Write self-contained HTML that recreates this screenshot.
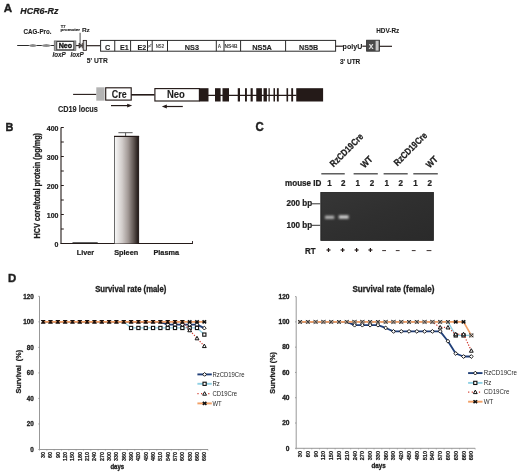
<!DOCTYPE html>
<html><head><meta charset="utf-8"><style>
html,body{margin:0;padding:0;background:#fff;}
svg{display:block;filter:blur(0.3px);}
text{font-family:"Liberation Sans",sans-serif;}
</style></head><body>
<svg width="520" height="473" viewBox="0 0 520 473">
<rect width="520" height="473" fill="#fff"/>
<text x="0" y="0" transform="translate(3.7 11.9) scale(1 1.0)" font-size="11.6" font-weight="bold" text-anchor="start" fill="#1e1e1e" stroke="#1e1e1e" stroke-width="0.4">A</text>
<text x="0" y="0" transform="translate(20.3 14.1) scale(1 1.08)" font-size="8.9" font-weight="bold" text-anchor="start" fill="#1e1e1e" font-style="italic" stroke="#1e1e1e" stroke-width="0.2">HCR6-Rz</text>
<text x="0" y="0" transform="translate(23.6 33.6) scale(1 1.08)" font-size="6.2" font-weight="bold" text-anchor="start" fill="#1e1e1e"  stroke="#1e1e1e" stroke-width="0.1">CAG-Pro.</text>
<text x="0" y="0" transform="translate(60.8 27.6) scale(1 0.95)" font-size="4.1" font-weight="bold" text-anchor="start" fill="#1e1e1e" stroke="#1e1e1e" stroke-width="0.15">T7</text>
<text x="0" y="0" transform="translate(60.5 31.2) scale(1 0.95)" font-size="4.45" font-weight="bold" text-anchor="start" fill="#1e1e1e" stroke="#1e1e1e" stroke-width="0.15">promoter</text>
<text x="0" y="0" transform="translate(81.9 32.2) scale(1 0.9)" font-size="6.5" font-weight="bold" text-anchor="start" fill="#1e1e1e"  stroke="#1e1e1e" stroke-width="0.1">Rz</text>
<line x1="17.2" y1="45.5" x2="54" y2="45.5" stroke="#2a2a2a" stroke-width="1.0" />
<path d="M28.4 45.45 Q32.9 42.4 37.4 45.45 Q32.9 48.5 28.4 45.45 Z" fill="#8c8c8c"/>
<path d="M41.0 45.45 Q46.3 42.4 51.6 45.45 Q46.3 48.5 41.0 45.45 Z" fill="#8c8c8c"/>
<rect x="54.2" y="40.9" width="21.7" height="9.6" fill="#a0a0a0" stroke="#555" stroke-width="0.6" />
<rect x="56.8" y="41.6" width="17.0" height="8.2" fill="#ffffff" stroke="#222" stroke-width="0.8" />
<text x="0" y="0" transform="translate(65.4 48.4) scale(1 1.02)" font-size="7.1" font-weight="bold" text-anchor="middle" fill="#111" stroke="#111" stroke-width="0.35">Neo</text>
<line x1="75.9" y1="45.6" x2="79" y2="45.6" stroke="#241a18" stroke-width="1.1" />
<path d="M79.0 43.0 L82.3 45.6 L79.0 48.2 Z" fill="#555" stroke="#241a18" stroke-width="0.6"/>
<line x1="82.3" y1="42.9" x2="82.3" y2="48.3" stroke="#241a18" stroke-width="0.8" />
<line x1="80.1" y1="32.8" x2="80.1" y2="43.6" stroke="#222" stroke-width="0.8" />
<rect x="83.2" y="40.4" width="3.2" height="9.9" fill="#d4d4d4" stroke="#241a18" stroke-width="0.85" />
<line x1="86.3" y1="45.7" x2="100.6" y2="45.7" stroke="#241a18" stroke-width="1.15" />
<text x="0" y="0" transform="translate(52.4 56.9) scale(1 1.08)" font-size="6.3" font-weight="bold" text-anchor="start" fill="#1e1e1e" font-style="italic"  stroke="#1e1e1e" stroke-width="0.1">loxP</text>
<text x="0" y="0" transform="translate(70.5 56.9) scale(1 1.08)" font-size="6.3" font-weight="bold" text-anchor="start" fill="#1e1e1e" font-style="italic"  stroke="#1e1e1e" stroke-width="0.1">loxP</text>
<text x="0" y="0" transform="translate(86.8 63.2) scale(1 1.08)" font-size="6.7" font-weight="bold" text-anchor="start" fill="#1e1e1e"  stroke="#1e1e1e" stroke-width="0.1">5' UTR</text>
<rect x="100.6" y="40.4" width="235.0" height="10.8" fill="#ffffff" stroke="#2a2a2a" stroke-width="1.0" />
<line x1="114.75" y1="40.4" x2="114.75" y2="51.2" stroke="#2a2a2a" stroke-width="1.0" />
<line x1="130.6" y1="40.4" x2="130.6" y2="51.2" stroke="#2a2a2a" stroke-width="1.0" />
<line x1="147.5" y1="40.4" x2="147.5" y2="51.2" stroke="#2a2a2a" stroke-width="1.0" />
<line x1="152.2" y1="40.4" x2="152.2" y2="51.2" stroke="#2a2a2a" stroke-width="1.0" />
<line x1="167.5" y1="40.4" x2="167.5" y2="51.2" stroke="#2a2a2a" stroke-width="1.0" />
<line x1="216.3" y1="40.4" x2="216.3" y2="51.2" stroke="#2a2a2a" stroke-width="1.0" />
<line x1="224.0" y1="40.4" x2="224.0" y2="51.2" stroke="#2a2a2a" stroke-width="1.0" />
<line x1="240.6" y1="40.4" x2="240.6" y2="51.2" stroke="#2a2a2a" stroke-width="1.0" />
<line x1="285.6" y1="40.4" x2="285.6" y2="51.2" stroke="#2a2a2a" stroke-width="1.0" />
<text x="0" y="0" transform="translate(107.6 49.6) scale(1 1.08)" font-size="7.2" font-weight="bold" text-anchor="middle" fill="#1e1e1e"  stroke="#1e1e1e" stroke-width="0.1">C</text>
<text x="0" y="0" transform="translate(124.3 49.6) scale(1 1.08)" font-size="7.2" font-weight="bold" text-anchor="middle" fill="#1e1e1e"  stroke="#1e1e1e" stroke-width="0.1">E1</text>
<text x="0" y="0" transform="translate(141.8 49.6) scale(1 1.08)" font-size="7.2" font-weight="bold" text-anchor="middle" fill="#1e1e1e"  stroke="#1e1e1e" stroke-width="0.1">E2</text>
<text x="0" y="0" transform="translate(149.9 47.4) scale(1 1.08)" font-size="2.6" font-weight="bold" text-anchor="middle" fill="#1e1e1e" >p7</text>
<text x="0" y="0" transform="translate(159.9 47.6) scale(1 1.08)" font-size="4.3" font-weight="bold" text-anchor="middle" fill="#444" >NS2</text>
<text x="0" y="0" transform="translate(191.9 49.6) scale(1 1.08)" font-size="7.3" font-weight="bold" text-anchor="middle" fill="#1e1e1e"  stroke="#1e1e1e" stroke-width="0.1">NS3</text>
<text x="0" y="0" transform="translate(219.4 48.0) scale(1 1.08)" font-size="4.6" font-weight="bold" text-anchor="middle" fill="#444" >A</text>
<text x="0" y="0" transform="translate(231.0 48.0) scale(1 1.08)" font-size="4.9" font-weight="bold" text-anchor="middle" fill="#333" >NS4B</text>
<text x="0" y="0" transform="translate(262.0 49.6) scale(1 1.08)" font-size="7.4" font-weight="bold" text-anchor="middle" fill="#1e1e1e"  stroke="#1e1e1e" stroke-width="0.1">NS5A</text>
<text x="0" y="0" transform="translate(308.6 49.6) scale(1 1.08)" font-size="7.2" font-weight="bold" text-anchor="middle" fill="#1e1e1e"  stroke="#1e1e1e" stroke-width="0.1">NS5B</text>
<line x1="335.6" y1="46.2" x2="342.9" y2="46.2" stroke="#241a18" stroke-width="1.15" />
<text x="0" y="0" transform="translate(342.6 48.6) scale(1 1.08)" font-size="7.1" font-weight="bold" text-anchor="start" fill="#1e1e1e"  stroke="#1e1e1e" stroke-width="0.1">polyU</text>
<line x1="362.3" y1="46.2" x2="366.4" y2="46.2" stroke="#241a18" stroke-width="1.15" />
<rect x="366.6" y="40.2" width="12.9" height="11.0" fill="#4a4a4a" stroke="#2a2a2a" stroke-width="0.8" />
<rect x="375.6" y="40.8" width="3.0" height="9.8" fill="#c8c8c8" stroke="none" stroke-width="1" />
<text x="0" y="0" transform="translate(371.2 49.0) scale(1 1.08)" font-size="7.0" font-weight="bold" text-anchor="middle" fill="#e8e8e8"  stroke="#e8e8e8" stroke-width="0.1">X</text>
<line x1="379.6" y1="46.3" x2="392.0" y2="46.3" stroke="#241a18" stroke-width="1.15" />
<text x="0" y="0" transform="translate(376.2 33.2) scale(1 1.08)" font-size="6.4" font-weight="bold" text-anchor="start" fill="#1e1e1e"  stroke="#1e1e1e" stroke-width="0.1">HDV-Rz</text>
<text x="0" y="0" transform="translate(340.0 63.8) scale(1 1.08)" font-size="6.5" font-weight="bold" text-anchor="start" fill="#1e1e1e"  stroke="#1e1e1e" stroke-width="0.1">3' UTR</text>
<line x1="73.1" y1="94.4" x2="96.4" y2="94.4" stroke="#241a18" stroke-width="1.1" />
<rect x="96.3" y="87.3" width="8.3" height="13.4" fill="#b4b4b4" stroke="none" stroke-width="1" />
<rect x="105.7" y="87.8" width="25.5" height="12.3" fill="#ffffff" stroke="#241a18" stroke-width="1.15" />
<text x="0" y="0" transform="translate(119.2 97.6) scale(1 1.16)" font-size="8.9" font-weight="bold" text-anchor="middle" fill="#1e1e1e"  stroke="#1e1e1e" stroke-width="0.1">Cre</text>
<line x1="131.2" y1="94.8" x2="154.6" y2="94.8" stroke="#241a18" stroke-width="1.6" />
<rect x="154.9" y="88.6" width="44.5" height="12.4" fill="#ffffff" stroke="#241a18" stroke-width="1.15" />
<text x="0" y="0" transform="translate(175.9 97.7) scale(1 1.12)" font-size="9.5" font-weight="bold" text-anchor="middle" fill="#1e1e1e"  stroke="#1e1e1e" stroke-width="0.1">Neo</text>
<line x1="199.4" y1="95.3" x2="296.5" y2="95.3" stroke="#241a18" stroke-width="1.15" />
<rect x="199.4" y="88.2" width="9.099999999999994" height="13.3" fill="#241a18" stroke="none" stroke-width="1" />
<rect x="215" y="88.2" width="5.599999999999994" height="13.3" fill="#241a18" stroke="none" stroke-width="1" />
<rect x="222.5" y="88.2" width="6.5" height="13.3" fill="#241a18" stroke="none" stroke-width="1" />
<rect x="237.75" y="88.2" width="2.25" height="13.3" fill="#241a18" stroke="none" stroke-width="1" />
<rect x="245" y="88.2" width="1.9000000000000057" height="13.3" fill="#241a18" stroke="none" stroke-width="1" />
<rect x="250.6" y="88.2" width="2.1500000000000057" height="13.3" fill="#241a18" stroke="none" stroke-width="1" />
<rect x="256.25" y="88.2" width="5.649999999999977" height="13.3" fill="#241a18" stroke="none" stroke-width="1" />
<rect x="263.5" y="88.2" width="3.3999999999999773" height="13.3" fill="#241a18" stroke="none" stroke-width="1" />
<rect x="268.5" y="88.2" width="1.25" height="13.3" fill="#241a18" stroke="none" stroke-width="1" />
<rect x="273.5" y="88.2" width="1.5" height="13.3" fill="#241a18" stroke="none" stroke-width="1" />
<rect x="276.9" y="88.2" width="1.8500000000000227" height="13.3" fill="#241a18" stroke="none" stroke-width="1" />
<rect x="286.5" y="88.2" width="1.6000000000000227" height="13.3" fill="#241a18" stroke="none" stroke-width="1" />
<rect x="291.25" y="88.2" width="1.8500000000000227" height="13.3" fill="#241a18" stroke="none" stroke-width="1" />
<rect x="296.25" y="88.2" width="26.850000000000023" height="13.3" fill="#241a18" stroke="none" stroke-width="1" />
<text x="0" y="0" transform="translate(57.9 111.9) scale(1 1.14)" font-size="7.35" font-weight="bold" text-anchor="start" fill="#1e1e1e"  stroke="#1e1e1e" stroke-width="0.1">CD19 locus</text>
<line x1="111.0" y1="105.6" x2="128.0" y2="105.6" stroke="#241a18" stroke-width="1.2" />
<path d="M127.2 103.7 L132.2 105.6 L127.2 107.5 Z" fill="#241a18"/>
<line x1="166.0" y1="106.5" x2="182.8" y2="106.5" stroke="#241a18" stroke-width="1.2" />
<path d="M166.8 104.6 L161.8 106.5 L166.8 108.4 Z" fill="#241a18"/>
<text x="0" y="0" transform="translate(5.5 130.8) scale(1 1.0)" font-size="10.9" font-weight="bold" text-anchor="start" fill="#1e1e1e" stroke="#1e1e1e" stroke-width="0.4">B</text>
<line x1="61.0" y1="127.5" x2="61.0" y2="243.5" stroke="#241a18" stroke-width="1.1" />
<line x1="61.0" y1="243.5" x2="63.8" y2="243.5" stroke="#241a18" stroke-width="1.0" />
<line x1="61.0" y1="229.0" x2="63.8" y2="229.0" stroke="#241a18" stroke-width="1.0" />
<line x1="61.0" y1="214.5" x2="63.8" y2="214.5" stroke="#241a18" stroke-width="1.0" />
<line x1="61.0" y1="200.0" x2="63.8" y2="200.0" stroke="#241a18" stroke-width="1.0" />
<line x1="61.0" y1="185.5" x2="63.8" y2="185.5" stroke="#241a18" stroke-width="1.0" />
<line x1="61.0" y1="171.0" x2="63.8" y2="171.0" stroke="#241a18" stroke-width="1.0" />
<line x1="61.0" y1="156.5" x2="63.8" y2="156.5" stroke="#241a18" stroke-width="1.0" />
<line x1="61.0" y1="142.0" x2="63.8" y2="142.0" stroke="#241a18" stroke-width="1.0" />
<line x1="61.0" y1="127.5" x2="63.8" y2="127.5" stroke="#241a18" stroke-width="1.0" />
<text x="0" y="0" transform="translate(58.4 246.5) scale(1 1.08)" font-size="7.0" font-weight="bold" text-anchor="end" fill="#1e1e1e"  stroke="#1e1e1e" stroke-width="0.22">0</text>
<text x="0" y="0" transform="translate(58.4 217.5) scale(1 1.08)" font-size="7.0" font-weight="bold" text-anchor="end" fill="#1e1e1e"  stroke="#1e1e1e" stroke-width="0.22">100</text>
<text x="0" y="0" transform="translate(58.4 188.5) scale(1 1.08)" font-size="7.0" font-weight="bold" text-anchor="end" fill="#1e1e1e"  stroke="#1e1e1e" stroke-width="0.22">200</text>
<text x="0" y="0" transform="translate(58.4 159.5) scale(1 1.08)" font-size="7.0" font-weight="bold" text-anchor="end" fill="#1e1e1e"  stroke="#1e1e1e" stroke-width="0.22">300</text>
<text x="0" y="0" transform="translate(58.4 130.5) scale(1 1.08)" font-size="7.0" font-weight="bold" text-anchor="end" fill="#1e1e1e"  stroke="#1e1e1e" stroke-width="0.22">400</text>
<line x1="60.45" y1="243.5" x2="192.9" y2="243.5" stroke="#241a18" stroke-width="1.1" />
<line x1="192.5" y1="243.5" x2="192.5" y2="241.0" stroke="#241a18" stroke-width="0.9" />
<text x="0" y="0" font-size="7.3" font-weight="bold" text-anchor="middle" fill="#1e1e1e" stroke="#1e1e1e" stroke-width="0.25" transform="translate(40.4 185.8) rotate(-90) scale(1 1.16)">HCV core/total protein (pg/mg)</text>
<line x1="72.5" y1="242.8" x2="97.7" y2="242.8" stroke="#222" stroke-width="1.0" />
<defs><linearGradient id="bg" x1="0" x2="1" y1="0" y2="0"><stop offset="0" stop-color="#f6f6f6"/><stop offset="0.3" stop-color="#d2cdcb"/><stop offset="0.55" stop-color="#a39a97"/><stop offset="0.8" stop-color="#5e5450"/><stop offset="1" stop-color="#1e1614"/></linearGradient></defs>
<rect x="115.0" y="136.4" width="23.6" height="107.1" fill="url(#bg)" stroke="none" stroke-width="1" />
<line x1="114.5" y1="136.0" x2="114.5" y2="243.5" stroke="#6a6a6a" stroke-width="1.0" />
<line x1="138.6" y1="136.0" x2="138.6" y2="243.5" stroke="#241a18" stroke-width="1.0" />
<line x1="114.0" y1="136.4" x2="139.1" y2="136.4" stroke="#241a18" stroke-width="1.2" />
<line x1="125.6" y1="132.7" x2="125.6" y2="136.0" stroke="#444" stroke-width="0.9" />
<line x1="118.4" y1="132.7" x2="132.6" y2="132.7" stroke="#555" stroke-width="1.0" />
<text x="0" y="0" transform="translate(85.5 254.5) scale(1 1.08)" font-size="7.25" font-weight="bold" text-anchor="middle" fill="#1e1e1e"  stroke="#1e1e1e" stroke-width="0.22">Liver</text>
<text x="0" y="0" transform="translate(126.2 254.5) scale(1 1.08)" font-size="7.35" font-weight="bold" text-anchor="middle" fill="#1e1e1e"  stroke="#1e1e1e" stroke-width="0.22">Spleen</text>
<text x="0" y="0" transform="translate(166.2 254.5) scale(1 1.08)" font-size="7.3" font-weight="bold" text-anchor="middle" fill="#1e1e1e"  stroke="#1e1e1e" stroke-width="0.22">Plasma</text>
<text x="0" y="0" transform="translate(255.5 130.6) scale(1 1.04)" font-size="11.4" font-weight="bold" text-anchor="start" fill="#1e1e1e" stroke="#1e1e1e" stroke-width="0.4">C</text>
<text x="0" y="0" font-size="7.9" font-weight="bold" fill="#1e1e1e" stroke="#1e1e1e" stroke-width="0.25" transform="translate(333.6 167.6) rotate(-45) scale(1 1.18)">RzCD19Cre</text>
<text x="0" y="0" font-size="7.9" font-weight="bold" fill="#1e1e1e" stroke="#1e1e1e" stroke-width="0.25" transform="translate(364.6 168.6) rotate(-45) scale(1 1.18)">WT</text>
<text x="0" y="0" font-size="7.9" font-weight="bold" fill="#1e1e1e" stroke="#1e1e1e" stroke-width="0.25" transform="translate(397.4 166.4) rotate(-45) scale(1 1.18)">RzCD19Cre</text>
<text x="0" y="0" font-size="7.9" font-weight="bold" fill="#1e1e1e" stroke="#1e1e1e" stroke-width="0.25" transform="translate(429.8 168.6) rotate(-45) scale(1 1.18)">WT</text>
<line x1="321.3" y1="173.8" x2="344.75" y2="173.8" stroke="#444" stroke-width="1.3" />
<line x1="353.6" y1="173.8" x2="377.8" y2="173.8" stroke="#444" stroke-width="1.3" />
<line x1="383.6" y1="173.8" x2="407.7" y2="173.8" stroke="#444" stroke-width="1.3" />
<line x1="413.3" y1="173.8" x2="437.8" y2="173.8" stroke="#444" stroke-width="1.3" />
<text x="0" y="0" transform="translate(285.0 185.9) scale(1 1.08)" font-size="8.1" font-weight="bold" text-anchor="start" fill="#1e1e1e"  stroke="#1e1e1e" stroke-width="0.22">mouse ID</text>
<text x="0" y="0" transform="translate(329.5 185.9) scale(1 1.08)" font-size="8.0" font-weight="bold" text-anchor="middle" fill="#1e1e1e"  stroke="#1e1e1e" stroke-width="0.22">1</text>
<text x="0" y="0" transform="translate(343.2 185.9) scale(1 1.08)" font-size="8.0" font-weight="bold" text-anchor="middle" fill="#1e1e1e"  stroke="#1e1e1e" stroke-width="0.22">2</text>
<text x="0" y="0" transform="translate(357.8 185.9) scale(1 1.08)" font-size="8.0" font-weight="bold" text-anchor="middle" fill="#1e1e1e"  stroke="#1e1e1e" stroke-width="0.22">1</text>
<text x="0" y="0" transform="translate(371.9 185.9) scale(1 1.08)" font-size="8.0" font-weight="bold" text-anchor="middle" fill="#1e1e1e"  stroke="#1e1e1e" stroke-width="0.22">2</text>
<text x="0" y="0" transform="translate(386.6 185.9) scale(1 1.08)" font-size="8.0" font-weight="bold" text-anchor="middle" fill="#1e1e1e"  stroke="#1e1e1e" stroke-width="0.22">1</text>
<text x="0" y="0" transform="translate(400.6 185.9) scale(1 1.08)" font-size="8.0" font-weight="bold" text-anchor="middle" fill="#1e1e1e"  stroke="#1e1e1e" stroke-width="0.22">2</text>
<text x="0" y="0" transform="translate(415.5 185.9) scale(1 1.08)" font-size="8.0" font-weight="bold" text-anchor="middle" fill="#1e1e1e"  stroke="#1e1e1e" stroke-width="0.22">1</text>
<text x="0" y="0" transform="translate(429.6 185.9) scale(1 1.08)" font-size="8.0" font-weight="bold" text-anchor="middle" fill="#1e1e1e"  stroke="#1e1e1e" stroke-width="0.22">2</text>
<defs><linearGradient id="gel" x1="0" y1="0" x2="1" y2="1"><stop offset="0" stop-color="#363636"/><stop offset="0.5" stop-color="#2f2f2f"/><stop offset="1" stop-color="#2a2a2a"/></linearGradient></defs>
<rect x="320.8" y="192.4" width="112.6" height="48.0" fill="url(#gel)" stroke="#1c1c1c" stroke-width="0.8" />
<defs><filter id="blur" x="-50%" y="-100%" width="200%" height="300%"><feGaussianBlur stdDeviation="0.8"/></filter></defs>
<rect x="325.0" y="215.7" width="9.2" height="3.2" fill="#b4b4b4" stroke="none" stroke-width="1" filter="url(#blur)"/>
<rect x="338.8" y="215.3" width="9.8" height="3.4" fill="#d0d0d0" stroke="none" stroke-width="1" filter="url(#blur)"/>
<text x="0" y="0" transform="translate(286.6 205.9) scale(1 1.08)" font-size="8.1" font-weight="bold" text-anchor="start" fill="#1e1e1e"  stroke="#1e1e1e" stroke-width="0.22">200 bp</text>
<line x1="311.2" y1="203.8" x2="320.3" y2="203.8" stroke="#333" stroke-width="1.0" />
<text x="0" y="0" transform="translate(286.6 228.1) scale(1 1.08)" font-size="8.1" font-weight="bold" text-anchor="start" fill="#1e1e1e"  stroke="#1e1e1e" stroke-width="0.22">100 bp</text>
<line x1="311.2" y1="225.3" x2="320.3" y2="225.3" stroke="#333" stroke-width="1.0" />
<text x="0" y="0" transform="translate(305.0 254.4) scale(1 1.08)" font-size="7.95" font-weight="bold" text-anchor="start" fill="#1e1e1e"  stroke="#1e1e1e" stroke-width="0.22">RT</text>
<line x1="326.5" y1="250.0" x2="330.5" y2="250.0" stroke="#241a18" stroke-width="1.2" />
<line x1="328.5" y1="248.0" x2="328.5" y2="252.0" stroke="#241a18" stroke-width="1.2" />
<line x1="340.6" y1="250.0" x2="344.6" y2="250.0" stroke="#241a18" stroke-width="1.2" />
<line x1="342.6" y1="248.0" x2="342.6" y2="252.0" stroke="#241a18" stroke-width="1.2" />
<line x1="354.6" y1="250.0" x2="358.6" y2="250.0" stroke="#241a18" stroke-width="1.2" />
<line x1="356.6" y1="248.0" x2="356.6" y2="252.0" stroke="#241a18" stroke-width="1.2" />
<line x1="368.4" y1="250.0" x2="372.4" y2="250.0" stroke="#241a18" stroke-width="1.2" />
<line x1="370.4" y1="248.0" x2="370.4" y2="252.0" stroke="#241a18" stroke-width="1.2" />
<line x1="382.2" y1="250.6" x2="386.0" y2="250.6" stroke="#241a18" stroke-width="0.9" />
<line x1="395.8" y1="250.6" x2="399.6" y2="250.6" stroke="#241a18" stroke-width="0.9" />
<line x1="411.8" y1="250.6" x2="415.6" y2="250.6" stroke="#241a18" stroke-width="0.9" />
<line x1="426.6" y1="250.6" x2="431.4" y2="250.6" stroke="#241a18" stroke-width="0.9" />
<text x="0" y="0" transform="translate(8.0 282.3) scale(1 1.0)" font-size="11.4" font-weight="bold" text-anchor="start" fill="#1e1e1e" stroke="#1e1e1e" stroke-width="0.4">D</text>
<text x="0" y="0" transform="translate(130.75 291.6) scale(1 1.08)" font-size="7.72" font-weight="bold" text-anchor="middle" fill="#1e1e1e"  stroke="#1e1e1e" stroke-width="0.3">Survival rate (male)</text>
<line x1="39.5" y1="296.3" x2="39.5" y2="449.5" stroke="#8c8c8c" stroke-width="0.9" />
<line x1="39.5" y1="449.5" x2="208.0" y2="449.5" stroke="#8c8c8c" stroke-width="0.9" />
<line x1="38.3" y1="449.5" x2="39.5" y2="449.5" stroke="#8c8c8c" stroke-width="0.8" />
<text x="0" y="0" transform="translate(33.8 451.8) scale(1 1.08)" font-size="6.35" font-weight="bold" text-anchor="end" fill="#222"  stroke="#222" stroke-width="0.3">0</text>
<line x1="38.3" y1="423.9666666666667" x2="39.5" y2="423.9666666666667" stroke="#8c8c8c" stroke-width="0.8" />
<text x="0" y="0" transform="translate(33.8 426.2666666666667) scale(1 1.08)" font-size="6.35" font-weight="bold" text-anchor="end" fill="#222"  stroke="#222" stroke-width="0.3">20</text>
<line x1="38.3" y1="398.43333333333334" x2="39.5" y2="398.43333333333334" stroke="#8c8c8c" stroke-width="0.8" />
<text x="0" y="0" transform="translate(33.8 400.73333333333335) scale(1 1.08)" font-size="6.35" font-weight="bold" text-anchor="end" fill="#222"  stroke="#222" stroke-width="0.3">40</text>
<line x1="38.3" y1="372.9" x2="39.5" y2="372.9" stroke="#8c8c8c" stroke-width="0.8" />
<text x="0" y="0" transform="translate(33.8 375.2) scale(1 1.08)" font-size="6.35" font-weight="bold" text-anchor="end" fill="#222"  stroke="#222" stroke-width="0.3">60</text>
<line x1="38.3" y1="347.3666666666667" x2="39.5" y2="347.3666666666667" stroke="#8c8c8c" stroke-width="0.8" />
<text x="0" y="0" transform="translate(33.8 349.6666666666667) scale(1 1.08)" font-size="6.35" font-weight="bold" text-anchor="end" fill="#222"  stroke="#222" stroke-width="0.3">80</text>
<line x1="38.3" y1="321.83333333333337" x2="39.5" y2="321.83333333333337" stroke="#8c8c8c" stroke-width="0.8" />
<text x="0" y="0" transform="translate(33.8 324.1333333333334) scale(1 1.08)" font-size="6.35" font-weight="bold" text-anchor="end" fill="#222"  stroke="#222" stroke-width="0.3">100</text>
<line x1="38.3" y1="296.3" x2="39.5" y2="296.3" stroke="#8c8c8c" stroke-width="0.8" />
<text x="0" y="0" transform="translate(33.8 298.6) scale(1 1.08)" font-size="6.35" font-weight="bold" text-anchor="end" fill="#222"  stroke="#222" stroke-width="0.3">120</text>
<line x1="39.5" y1="449.5" x2="39.5" y2="450.7" stroke="#8c8c8c" stroke-width="0.6" />
<line x1="46.82608695652174" y1="449.5" x2="46.82608695652174" y2="450.7" stroke="#8c8c8c" stroke-width="0.6" />
<line x1="54.15217391304348" y1="449.5" x2="54.15217391304348" y2="450.7" stroke="#8c8c8c" stroke-width="0.6" />
<line x1="61.47826086956522" y1="449.5" x2="61.47826086956522" y2="450.7" stroke="#8c8c8c" stroke-width="0.6" />
<line x1="68.80434782608695" y1="449.5" x2="68.80434782608695" y2="450.7" stroke="#8c8c8c" stroke-width="0.6" />
<line x1="76.13043478260869" y1="449.5" x2="76.13043478260869" y2="450.7" stroke="#8c8c8c" stroke-width="0.6" />
<line x1="83.45652173913044" y1="449.5" x2="83.45652173913044" y2="450.7" stroke="#8c8c8c" stroke-width="0.6" />
<line x1="90.78260869565217" y1="449.5" x2="90.78260869565217" y2="450.7" stroke="#8c8c8c" stroke-width="0.6" />
<line x1="98.1086956521739" y1="449.5" x2="98.1086956521739" y2="450.7" stroke="#8c8c8c" stroke-width="0.6" />
<line x1="105.43478260869566" y1="449.5" x2="105.43478260869566" y2="450.7" stroke="#8c8c8c" stroke-width="0.6" />
<line x1="112.76086956521739" y1="449.5" x2="112.76086956521739" y2="450.7" stroke="#8c8c8c" stroke-width="0.6" />
<line x1="120.08695652173913" y1="449.5" x2="120.08695652173913" y2="450.7" stroke="#8c8c8c" stroke-width="0.6" />
<line x1="127.41304347826087" y1="449.5" x2="127.41304347826087" y2="450.7" stroke="#8c8c8c" stroke-width="0.6" />
<line x1="134.73913043478262" y1="449.5" x2="134.73913043478262" y2="450.7" stroke="#8c8c8c" stroke-width="0.6" />
<line x1="142.06521739130434" y1="449.5" x2="142.06521739130434" y2="450.7" stroke="#8c8c8c" stroke-width="0.6" />
<line x1="149.3913043478261" y1="449.5" x2="149.3913043478261" y2="450.7" stroke="#8c8c8c" stroke-width="0.6" />
<line x1="156.7173913043478" y1="449.5" x2="156.7173913043478" y2="450.7" stroke="#8c8c8c" stroke-width="0.6" />
<line x1="164.04347826086956" y1="449.5" x2="164.04347826086956" y2="450.7" stroke="#8c8c8c" stroke-width="0.6" />
<line x1="171.3695652173913" y1="449.5" x2="171.3695652173913" y2="450.7" stroke="#8c8c8c" stroke-width="0.6" />
<line x1="178.69565217391303" y1="449.5" x2="178.69565217391303" y2="450.7" stroke="#8c8c8c" stroke-width="0.6" />
<line x1="186.02173913043478" y1="449.5" x2="186.02173913043478" y2="450.7" stroke="#8c8c8c" stroke-width="0.6" />
<line x1="193.34782608695653" y1="449.5" x2="193.34782608695653" y2="450.7" stroke="#8c8c8c" stroke-width="0.6" />
<line x1="200.67391304347825" y1="449.5" x2="200.67391304347825" y2="450.7" stroke="#8c8c8c" stroke-width="0.6" />
<line x1="208.0" y1="449.5" x2="208.0" y2="450.7" stroke="#8c8c8c" stroke-width="0.6" />
<text x="0" y="0" font-size="5.40" font-weight="bold" text-anchor="end" fill="#222" stroke="#222" stroke-width="0.2" transform="translate(45.16 452.1) rotate(-90) scale(1 1.1)">30</text>
<text x="0" y="0" font-size="5.40" font-weight="bold" text-anchor="end" fill="#222" stroke="#222" stroke-width="0.2" transform="translate(52.49 452.1) rotate(-90) scale(1 1.1)">60</text>
<text x="0" y="0" font-size="5.40" font-weight="bold" text-anchor="end" fill="#222" stroke="#222" stroke-width="0.2" transform="translate(59.82 452.1) rotate(-90) scale(1 1.1)">90</text>
<text x="0" y="0" font-size="5.40" font-weight="bold" text-anchor="end" fill="#222" stroke="#222" stroke-width="0.2" transform="translate(67.14 452.1) rotate(-90) scale(1 1.1)">120</text>
<text x="0" y="0" font-size="5.40" font-weight="bold" text-anchor="end" fill="#222" stroke="#222" stroke-width="0.2" transform="translate(74.47 452.1) rotate(-90) scale(1 1.1)">150</text>
<text x="0" y="0" font-size="5.40" font-weight="bold" text-anchor="end" fill="#222" stroke="#222" stroke-width="0.2" transform="translate(81.79 452.1) rotate(-90) scale(1 1.1)">180</text>
<text x="0" y="0" font-size="5.40" font-weight="bold" text-anchor="end" fill="#222" stroke="#222" stroke-width="0.2" transform="translate(89.12 452.1) rotate(-90) scale(1 1.1)">210</text>
<text x="0" y="0" font-size="5.40" font-weight="bold" text-anchor="end" fill="#222" stroke="#222" stroke-width="0.2" transform="translate(96.45 452.1) rotate(-90) scale(1 1.1)">240</text>
<text x="0" y="0" font-size="5.40" font-weight="bold" text-anchor="end" fill="#222" stroke="#222" stroke-width="0.2" transform="translate(103.77 452.1) rotate(-90) scale(1 1.1)">270</text>
<text x="0" y="0" font-size="5.40" font-weight="bold" text-anchor="end" fill="#222" stroke="#222" stroke-width="0.2" transform="translate(111.10 452.1) rotate(-90) scale(1 1.1)">300</text>
<text x="0" y="0" font-size="5.40" font-weight="bold" text-anchor="end" fill="#222" stroke="#222" stroke-width="0.2" transform="translate(118.42 452.1) rotate(-90) scale(1 1.1)">330</text>
<text x="0" y="0" font-size="5.40" font-weight="bold" text-anchor="end" fill="#222" stroke="#222" stroke-width="0.2" transform="translate(125.75 452.1) rotate(-90) scale(1 1.1)">360</text>
<text x="0" y="0" font-size="5.40" font-weight="bold" text-anchor="end" fill="#222" stroke="#222" stroke-width="0.2" transform="translate(133.08 452.1) rotate(-90) scale(1 1.1)">390</text>
<text x="0" y="0" font-size="5.40" font-weight="bold" text-anchor="end" fill="#222" stroke="#222" stroke-width="0.2" transform="translate(140.40 452.1) rotate(-90) scale(1 1.1)">420</text>
<text x="0" y="0" font-size="5.40" font-weight="bold" text-anchor="end" fill="#222" stroke="#222" stroke-width="0.2" transform="translate(147.73 452.1) rotate(-90) scale(1 1.1)">450</text>
<text x="0" y="0" font-size="5.40" font-weight="bold" text-anchor="end" fill="#222" stroke="#222" stroke-width="0.2" transform="translate(155.05 452.1) rotate(-90) scale(1 1.1)">480</text>
<text x="0" y="0" font-size="5.40" font-weight="bold" text-anchor="end" fill="#222" stroke="#222" stroke-width="0.2" transform="translate(162.38 452.1) rotate(-90) scale(1 1.1)">510</text>
<text x="0" y="0" font-size="5.40" font-weight="bold" text-anchor="end" fill="#222" stroke="#222" stroke-width="0.2" transform="translate(169.71 452.1) rotate(-90) scale(1 1.1)">540</text>
<text x="0" y="0" font-size="5.40" font-weight="bold" text-anchor="end" fill="#222" stroke="#222" stroke-width="0.2" transform="translate(177.03 452.1) rotate(-90) scale(1 1.1)">570</text>
<text x="0" y="0" font-size="5.40" font-weight="bold" text-anchor="end" fill="#222" stroke="#222" stroke-width="0.2" transform="translate(184.36 452.1) rotate(-90) scale(1 1.1)">600</text>
<text x="0" y="0" font-size="5.40" font-weight="bold" text-anchor="end" fill="#222" stroke="#222" stroke-width="0.2" transform="translate(191.68 452.1) rotate(-90) scale(1 1.1)">630</text>
<text x="0" y="0" font-size="5.40" font-weight="bold" text-anchor="end" fill="#222" stroke="#222" stroke-width="0.2" transform="translate(199.01 452.1) rotate(-90) scale(1 1.1)">660</text>
<text x="0" y="0" font-size="5.40" font-weight="bold" text-anchor="end" fill="#222" stroke="#222" stroke-width="0.2" transform="translate(206.34 452.1) rotate(-90) scale(1 1.1)">690</text>
<text x="0" y="0" transform="translate(110.4 469.1) scale(1 1.08)" font-size="6.0" font-weight="bold" text-anchor="start" fill="#222"  stroke="#222" stroke-width="0.3">days</text>
<text x="0" y="0" font-size="7.3" font-weight="bold" text-anchor="middle" fill="#222" stroke="#222" stroke-width="0.25" transform="translate(21.0 371.7) rotate(-90) scale(1 1.08)" xml:space="preserve">Survival  (%)</text>
<polyline points="43.16,321.83 50.49,321.83 57.82,321.83 65.14,321.83 72.47,321.83 79.79,321.83 87.12,321.83 94.45,321.83 101.77,321.83 109.10,321.83 116.42,321.83 123.75,321.83 131.08,321.83 138.40,321.83 145.73,321.83 153.05,321.83 160.38,321.83 167.71,324.64 175.03,324.64 182.36,324.64 189.68,324.64 197.01,324.64 204.34,328.09" fill="none" stroke="#203f78" stroke-width="1.8" stroke-linejoin="round"/>
<path d="M167.71 322.74 L169.61 324.64 L167.71 326.54 L165.81 324.64 Z" fill="#fff" stroke="#111" stroke-width="0.95"/>
<path d="M175.03 322.74 L176.93 324.64 L175.03 326.54 L173.13 324.64 Z" fill="#fff" stroke="#111" stroke-width="0.95"/>
<path d="M182.36 322.74 L184.26 324.64 L182.36 326.54 L180.46 324.64 Z" fill="#fff" stroke="#111" stroke-width="0.95"/>
<path d="M189.68 322.74 L191.58 324.64 L189.68 326.54 L187.78 324.64 Z" fill="#fff" stroke="#111" stroke-width="0.95"/>
<path d="M197.01 322.74 L198.91 324.64 L197.01 326.54 L195.11 324.64 Z" fill="#fff" stroke="#111" stroke-width="0.95"/>
<path d="M204.34 326.19 L206.24 328.09 L204.34 329.99 L202.44 328.09 Z" fill="#fff" stroke="#111" stroke-width="0.95"/>
<polyline points="43.16,321.83 50.49,321.83 57.82,321.83 65.14,321.83 72.47,321.83 79.79,321.83 87.12,321.83 94.45,321.83 101.77,321.83 109.10,321.83 116.42,321.83 123.75,321.83 131.08,327.96 138.40,327.96 145.73,327.96 153.05,327.96 160.38,327.96 167.71,327.96 175.03,327.96 182.36,327.96 189.68,327.96 197.01,327.96 204.34,334.60" fill="none" stroke="#8fd0e4" stroke-width="1.3"/>
<rect x="129.48" y="326.36" width="3.2" height="3.2" fill="#fff" stroke="#111" stroke-width="1.1"/>
<rect x="136.80" y="326.36" width="3.2" height="3.2" fill="#fff" stroke="#111" stroke-width="1.1"/>
<rect x="144.13" y="326.36" width="3.2" height="3.2" fill="#fff" stroke="#111" stroke-width="1.1"/>
<rect x="151.45" y="326.36" width="3.2" height="3.2" fill="#fff" stroke="#111" stroke-width="1.1"/>
<rect x="158.78" y="326.36" width="3.2" height="3.2" fill="#fff" stroke="#111" stroke-width="1.1"/>
<rect x="166.11" y="326.36" width="3.2" height="3.2" fill="#fff" stroke="#111" stroke-width="1.1"/>
<rect x="173.43" y="326.36" width="3.2" height="3.2" fill="#fff" stroke="#111" stroke-width="1.1"/>
<rect x="180.76" y="326.36" width="3.2" height="3.2" fill="#fff" stroke="#111" stroke-width="1.1"/>
<rect x="188.08" y="326.36" width="3.2" height="3.2" fill="#fff" stroke="#111" stroke-width="1.1"/>
<rect x="195.41" y="326.36" width="3.2" height="3.2" fill="#fff" stroke="#111" stroke-width="1.1"/>
<rect x="202.74" y="333.00" width="3.2" height="3.2" fill="#fff" stroke="#111" stroke-width="1.1"/>
<polyline points="43.16,321.83 50.49,321.83 57.82,321.83 65.14,321.83 72.47,321.83 79.79,321.83 87.12,321.83 94.45,321.83 101.77,321.83 109.10,321.83 116.42,321.83 123.75,321.83 131.08,321.83 138.40,321.83 145.73,321.83 153.05,321.83 160.38,321.83 167.71,321.83 175.03,321.83 182.36,321.83 189.68,330.26 197.01,338.30 204.34,346.09" fill="none" stroke="#d03c30" stroke-width="1.2" stroke-dasharray="1.2 1.6"/>
<path d="M189.68 328.26 L191.58 331.76 L187.78 331.76 Z" fill="#fff" stroke="#111" stroke-width="1.0"/>
<path d="M197.01 336.30 L198.91 339.80 L195.11 339.80 Z" fill="#fff" stroke="#111" stroke-width="1.0"/>
<path d="M204.34 344.09 L206.24 347.59 L202.44 347.59 Z" fill="#fff" stroke="#111" stroke-width="1.0"/>
<polyline points="43.16,321.83 50.49,321.83 57.82,321.83 65.14,321.83 72.47,321.83 79.79,321.83 87.12,321.83 94.45,321.83 101.77,321.83 109.10,321.83 116.42,321.83 123.75,321.83 131.08,321.83 138.40,321.83 145.73,321.83 153.05,321.83 160.38,321.83 167.71,321.83 175.03,321.83 182.36,321.83 189.68,321.83 197.01,321.83 204.34,321.83" fill="none" stroke="#f2a066" stroke-width="1.6"/>
<path d="M40.86 319.98 L45.46 319.98 L45.26 320.83 L43.96 321.83 L45.26 322.83 L45.46 323.68 L40.86 323.68 L41.06 322.83 L42.36 321.83 L41.06 320.83 Z" fill="#1c0e08"/>
<path d="M48.19 319.98 L52.79 319.98 L52.59 320.83 L51.29 321.83 L52.59 322.83 L52.79 323.68 L48.19 323.68 L48.39 322.83 L49.69 321.83 L48.39 320.83 Z" fill="#1c0e08"/>
<path d="M55.52 319.98 L60.12 319.98 L59.92 320.83 L58.62 321.83 L59.92 322.83 L60.12 323.68 L55.52 323.68 L55.72 322.83 L57.02 321.83 L55.72 320.83 Z" fill="#1c0e08"/>
<path d="M62.84 319.98 L67.44 319.98 L67.24 320.83 L65.94 321.83 L67.24 322.83 L67.44 323.68 L62.84 323.68 L63.04 322.83 L64.34 321.83 L63.04 320.83 Z" fill="#1c0e08"/>
<path d="M70.17 319.98 L74.77 319.98 L74.57 320.83 L73.27 321.83 L74.57 322.83 L74.77 323.68 L70.17 323.68 L70.37 322.83 L71.67 321.83 L70.37 320.83 Z" fill="#1c0e08"/>
<path d="M77.49 319.98 L82.09 319.98 L81.89 320.83 L80.59 321.83 L81.89 322.83 L82.09 323.68 L77.49 323.68 L77.69 322.83 L78.99 321.83 L77.69 320.83 Z" fill="#1c0e08"/>
<path d="M84.82 319.98 L89.42 319.98 L89.22 320.83 L87.92 321.83 L89.22 322.83 L89.42 323.68 L84.82 323.68 L85.02 322.83 L86.32 321.83 L85.02 320.83 Z" fill="#1c0e08"/>
<path d="M92.15 319.98 L96.75 319.98 L96.55 320.83 L95.25 321.83 L96.55 322.83 L96.75 323.68 L92.15 323.68 L92.35 322.83 L93.65 321.83 L92.35 320.83 Z" fill="#1c0e08"/>
<path d="M99.47 319.98 L104.07 319.98 L103.87 320.83 L102.57 321.83 L103.87 322.83 L104.07 323.68 L99.47 323.68 L99.67 322.83 L100.97 321.83 L99.67 320.83 Z" fill="#1c0e08"/>
<path d="M106.80 319.98 L111.40 319.98 L111.20 320.83 L109.90 321.83 L111.20 322.83 L111.40 323.68 L106.80 323.68 L107.00 322.83 L108.30 321.83 L107.00 320.83 Z" fill="#1c0e08"/>
<path d="M114.12 319.98 L118.72 319.98 L118.52 320.83 L117.22 321.83 L118.52 322.83 L118.72 323.68 L114.12 323.68 L114.32 322.83 L115.62 321.83 L114.32 320.83 Z" fill="#1c0e08"/>
<path d="M121.45 319.98 L126.05 319.98 L125.85 320.83 L124.55 321.83 L125.85 322.83 L126.05 323.68 L121.45 323.68 L121.65 322.83 L122.95 321.83 L121.65 320.83 Z" fill="#1c0e08"/>
<path d="M128.78 319.98 L133.38 319.98 L133.18 320.83 L131.88 321.83 L133.18 322.83 L133.38 323.68 L128.78 323.68 L128.98 322.83 L130.28 321.83 L128.98 320.83 Z" fill="#1c0e08"/>
<path d="M136.10 319.98 L140.70 319.98 L140.50 320.83 L139.20 321.83 L140.50 322.83 L140.70 323.68 L136.10 323.68 L136.30 322.83 L137.60 321.83 L136.30 320.83 Z" fill="#1c0e08"/>
<path d="M143.43 319.98 L148.03 319.98 L147.83 320.83 L146.53 321.83 L147.83 322.83 L148.03 323.68 L143.43 323.68 L143.63 322.83 L144.93 321.83 L143.63 320.83 Z" fill="#1c0e08"/>
<path d="M150.75 319.98 L155.35 319.98 L155.15 320.83 L153.85 321.83 L155.15 322.83 L155.35 323.68 L150.75 323.68 L150.95 322.83 L152.25 321.83 L150.95 320.83 Z" fill="#1c0e08"/>
<path d="M158.08 319.98 L162.68 319.98 L162.48 320.83 L161.18 321.83 L162.48 322.83 L162.68 323.68 L158.08 323.68 L158.28 322.83 L159.58 321.83 L158.28 320.83 Z" fill="#1c0e08"/>
<path d="M165.41 319.98 L170.01 319.98 L169.81 320.83 L168.51 321.83 L169.81 322.83 L170.01 323.68 L165.41 323.68 L165.61 322.83 L166.91 321.83 L165.61 320.83 Z" fill="#1c0e08"/>
<path d="M172.73 319.98 L177.33 319.98 L177.13 320.83 L175.83 321.83 L177.13 322.83 L177.33 323.68 L172.73 323.68 L172.93 322.83 L174.23 321.83 L172.93 320.83 Z" fill="#1c0e08"/>
<path d="M180.06 319.98 L184.66 319.98 L184.46 320.83 L183.16 321.83 L184.46 322.83 L184.66 323.68 L180.06 323.68 L180.26 322.83 L181.56 321.83 L180.26 320.83 Z" fill="#1c0e08"/>
<path d="M187.88 320.38 L191.48 323.28 M191.48 320.38 L187.88 323.28" stroke="#111" stroke-width="1.6"/>
<path d="M195.21 320.38 L198.81 323.28 M198.81 320.38 L195.21 323.28" stroke="#111" stroke-width="1.6"/>
<path d="M202.54 320.38 L206.14 323.28 M206.14 320.38 L202.54 323.28" stroke="#111" stroke-width="1.6"/>
<line x1="197.4" y1="374.4" x2="211.8" y2="374.4" stroke="#203f78" stroke-width="1.9" />
<path d="M204.60 372.50 L206.50 374.40 L204.60 376.30 L202.70 374.40 Z" fill="#fff" stroke="#111" stroke-width="0.95"/>
<text x="0" y="0" transform="translate(212.4 376.5) scale(1 1.08)" font-size="5.95" font-weight="normal" text-anchor="start" fill="#2a2a2a" >RzCD19Cre</text>
<line x1="197.4" y1="383.8" x2="211.8" y2="383.8" stroke="#8fd0e4" stroke-width="1.9" />
<rect x="203.00" y="382.20" width="3.2" height="3.2" fill="#fff" stroke="#111" stroke-width="1.1"/>
<text x="0" y="0" transform="translate(212.4 385.90000000000003) scale(1 1.08)" font-size="5.95" font-weight="normal" text-anchor="start" fill="#2a2a2a" >Rz</text>
<line x1="197.4" y1="393.7" x2="211.8" y2="393.7" stroke="#d03c30" stroke-width="1.2" stroke-dasharray="1.2 2.4"/>
<path d="M204.60 391.70 L206.50 395.20 L202.70 395.20 Z" fill="#fff" stroke="#111" stroke-width="1.0"/>
<text x="0" y="0" transform="translate(212.4 395.8) scale(1 1.08)" font-size="5.95" font-weight="normal" text-anchor="start" fill="#2a2a2a" >CD19Cre</text>
<line x1="197.4" y1="403.4" x2="211.8" y2="403.4" stroke="#f2a066" stroke-width="1.9" />
<path d="M202.80 401.95 L206.40 404.85 M206.40 401.95 L202.80 404.85" stroke="#111" stroke-width="1.6"/>
<text x="0" y="0" transform="translate(212.4 405.5) scale(1 1.08)" font-size="5.95" font-weight="normal" text-anchor="start" fill="#2a2a2a" >WT</text>
<text x="0" y="0" transform="translate(393.45 291.6) scale(1 1.08)" font-size="8.12" font-weight="bold" text-anchor="middle" fill="#1e1e1e"  stroke="#1e1e1e" stroke-width="0.3">Survival rate (female)</text>
<line x1="296.2" y1="296.6" x2="296.2" y2="448.3" stroke="#8c8c8c" stroke-width="0.9" />
<line x1="296.2" y1="448.3" x2="475.2" y2="448.3" stroke="#8c8c8c" stroke-width="0.9" />
<line x1="295.0" y1="448.3" x2="296.2" y2="448.3" stroke="#8c8c8c" stroke-width="0.8" />
<text x="0" y="0" transform="translate(289.5 450.6) scale(1 1.08)" font-size="6.604" font-weight="bold" text-anchor="end" fill="#222"  stroke="#222" stroke-width="0.3">0</text>
<line x1="295.0" y1="423.01666666666665" x2="296.2" y2="423.01666666666665" stroke="#8c8c8c" stroke-width="0.8" />
<text x="0" y="0" transform="translate(289.5 425.31666666666666) scale(1 1.08)" font-size="6.604" font-weight="bold" text-anchor="end" fill="#222"  stroke="#222" stroke-width="0.3">20</text>
<line x1="295.0" y1="397.73333333333335" x2="296.2" y2="397.73333333333335" stroke="#8c8c8c" stroke-width="0.8" />
<text x="0" y="0" transform="translate(289.5 400.03333333333336) scale(1 1.08)" font-size="6.604" font-weight="bold" text-anchor="end" fill="#222"  stroke="#222" stroke-width="0.3">40</text>
<line x1="295.0" y1="372.45000000000005" x2="296.2" y2="372.45000000000005" stroke="#8c8c8c" stroke-width="0.8" />
<text x="0" y="0" transform="translate(289.5 374.75000000000006) scale(1 1.08)" font-size="6.604" font-weight="bold" text-anchor="end" fill="#222"  stroke="#222" stroke-width="0.3">60</text>
<line x1="295.0" y1="347.1666666666667" x2="296.2" y2="347.1666666666667" stroke="#8c8c8c" stroke-width="0.8" />
<text x="0" y="0" transform="translate(289.5 349.4666666666667) scale(1 1.08)" font-size="6.604" font-weight="bold" text-anchor="end" fill="#222"  stroke="#222" stroke-width="0.3">80</text>
<line x1="295.0" y1="321.8833333333333" x2="296.2" y2="321.8833333333333" stroke="#8c8c8c" stroke-width="0.8" />
<text x="0" y="0" transform="translate(289.5 324.18333333333334) scale(1 1.08)" font-size="6.604" font-weight="bold" text-anchor="end" fill="#222"  stroke="#222" stroke-width="0.3">100</text>
<line x1="295.0" y1="296.6" x2="296.2" y2="296.6" stroke="#8c8c8c" stroke-width="0.8" />
<text x="0" y="0" transform="translate(289.5 298.90000000000003) scale(1 1.08)" font-size="6.604" font-weight="bold" text-anchor="end" fill="#222"  stroke="#222" stroke-width="0.3">120</text>
<line x1="296.2" y1="448.3" x2="296.2" y2="449.5" stroke="#8c8c8c" stroke-width="0.6" />
<line x1="303.9826086956522" y1="448.3" x2="303.9826086956522" y2="449.5" stroke="#8c8c8c" stroke-width="0.6" />
<line x1="311.76521739130436" y1="448.3" x2="311.76521739130436" y2="449.5" stroke="#8c8c8c" stroke-width="0.6" />
<line x1="319.5478260869565" y1="448.3" x2="319.5478260869565" y2="449.5" stroke="#8c8c8c" stroke-width="0.6" />
<line x1="327.3304347826087" y1="448.3" x2="327.3304347826087" y2="449.5" stroke="#8c8c8c" stroke-width="0.6" />
<line x1="335.11304347826086" y1="448.3" x2="335.11304347826086" y2="449.5" stroke="#8c8c8c" stroke-width="0.6" />
<line x1="342.89565217391305" y1="448.3" x2="342.89565217391305" y2="449.5" stroke="#8c8c8c" stroke-width="0.6" />
<line x1="350.6782608695652" y1="448.3" x2="350.6782608695652" y2="449.5" stroke="#8c8c8c" stroke-width="0.6" />
<line x1="358.46086956521737" y1="448.3" x2="358.46086956521737" y2="449.5" stroke="#8c8c8c" stroke-width="0.6" />
<line x1="366.24347826086955" y1="448.3" x2="366.24347826086955" y2="449.5" stroke="#8c8c8c" stroke-width="0.6" />
<line x1="374.02608695652174" y1="448.3" x2="374.02608695652174" y2="449.5" stroke="#8c8c8c" stroke-width="0.6" />
<line x1="381.8086956521739" y1="448.3" x2="381.8086956521739" y2="449.5" stroke="#8c8c8c" stroke-width="0.6" />
<line x1="389.59130434782605" y1="448.3" x2="389.59130434782605" y2="449.5" stroke="#8c8c8c" stroke-width="0.6" />
<line x1="397.37391304347824" y1="448.3" x2="397.37391304347824" y2="449.5" stroke="#8c8c8c" stroke-width="0.6" />
<line x1="405.1565217391304" y1="448.3" x2="405.1565217391304" y2="449.5" stroke="#8c8c8c" stroke-width="0.6" />
<line x1="412.9391304347826" y1="448.3" x2="412.9391304347826" y2="449.5" stroke="#8c8c8c" stroke-width="0.6" />
<line x1="420.7217391304348" y1="448.3" x2="420.7217391304348" y2="449.5" stroke="#8c8c8c" stroke-width="0.6" />
<line x1="428.5043478260869" y1="448.3" x2="428.5043478260869" y2="449.5" stroke="#8c8c8c" stroke-width="0.6" />
<line x1="436.2869565217391" y1="448.3" x2="436.2869565217391" y2="449.5" stroke="#8c8c8c" stroke-width="0.6" />
<line x1="444.0695652173913" y1="448.3" x2="444.0695652173913" y2="449.5" stroke="#8c8c8c" stroke-width="0.6" />
<line x1="451.85217391304343" y1="448.3" x2="451.85217391304343" y2="449.5" stroke="#8c8c8c" stroke-width="0.6" />
<line x1="459.6347826086957" y1="448.3" x2="459.6347826086957" y2="449.5" stroke="#8c8c8c" stroke-width="0.6" />
<line x1="467.4173913043478" y1="448.3" x2="467.4173913043478" y2="449.5" stroke="#8c8c8c" stroke-width="0.6" />
<line x1="475.2" y1="448.3" x2="475.2" y2="449.5" stroke="#8c8c8c" stroke-width="0.6" />
<text x="0" y="0" font-size="5.62" font-weight="bold" text-anchor="end" fill="#222" stroke="#222" stroke-width="0.2" transform="translate(302.09 450.90000000000003) rotate(-90) scale(1 1.1)">30</text>
<text x="0" y="0" font-size="5.62" font-weight="bold" text-anchor="end" fill="#222" stroke="#222" stroke-width="0.2" transform="translate(309.87 450.90000000000003) rotate(-90) scale(1 1.1)">60</text>
<text x="0" y="0" font-size="5.62" font-weight="bold" text-anchor="end" fill="#222" stroke="#222" stroke-width="0.2" transform="translate(317.66 450.90000000000003) rotate(-90) scale(1 1.1)">90</text>
<text x="0" y="0" font-size="5.62" font-weight="bold" text-anchor="end" fill="#222" stroke="#222" stroke-width="0.2" transform="translate(325.44 450.90000000000003) rotate(-90) scale(1 1.1)">120</text>
<text x="0" y="0" font-size="5.62" font-weight="bold" text-anchor="end" fill="#222" stroke="#222" stroke-width="0.2" transform="translate(333.22 450.90000000000003) rotate(-90) scale(1 1.1)">150</text>
<text x="0" y="0" font-size="5.62" font-weight="bold" text-anchor="end" fill="#222" stroke="#222" stroke-width="0.2" transform="translate(341.00 450.90000000000003) rotate(-90) scale(1 1.1)">180</text>
<text x="0" y="0" font-size="5.62" font-weight="bold" text-anchor="end" fill="#222" stroke="#222" stroke-width="0.2" transform="translate(348.79 450.90000000000003) rotate(-90) scale(1 1.1)">210</text>
<text x="0" y="0" font-size="5.62" font-weight="bold" text-anchor="end" fill="#222" stroke="#222" stroke-width="0.2" transform="translate(356.57 450.90000000000003) rotate(-90) scale(1 1.1)">240</text>
<text x="0" y="0" font-size="5.62" font-weight="bold" text-anchor="end" fill="#222" stroke="#222" stroke-width="0.2" transform="translate(364.35 450.90000000000003) rotate(-90) scale(1 1.1)">270</text>
<text x="0" y="0" font-size="5.62" font-weight="bold" text-anchor="end" fill="#222" stroke="#222" stroke-width="0.2" transform="translate(372.13 450.90000000000003) rotate(-90) scale(1 1.1)">300</text>
<text x="0" y="0" font-size="5.62" font-weight="bold" text-anchor="end" fill="#222" stroke="#222" stroke-width="0.2" transform="translate(379.92 450.90000000000003) rotate(-90) scale(1 1.1)">330</text>
<text x="0" y="0" font-size="5.62" font-weight="bold" text-anchor="end" fill="#222" stroke="#222" stroke-width="0.2" transform="translate(387.70 450.90000000000003) rotate(-90) scale(1 1.1)">360</text>
<text x="0" y="0" font-size="5.62" font-weight="bold" text-anchor="end" fill="#222" stroke="#222" stroke-width="0.2" transform="translate(395.48 450.90000000000003) rotate(-90) scale(1 1.1)">390</text>
<text x="0" y="0" font-size="5.62" font-weight="bold" text-anchor="end" fill="#222" stroke="#222" stroke-width="0.2" transform="translate(403.27 450.90000000000003) rotate(-90) scale(1 1.1)">420</text>
<text x="0" y="0" font-size="5.62" font-weight="bold" text-anchor="end" fill="#222" stroke="#222" stroke-width="0.2" transform="translate(411.05 450.90000000000003) rotate(-90) scale(1 1.1)">450</text>
<text x="0" y="0" font-size="5.62" font-weight="bold" text-anchor="end" fill="#222" stroke="#222" stroke-width="0.2" transform="translate(418.83 450.90000000000003) rotate(-90) scale(1 1.1)">480</text>
<text x="0" y="0" font-size="5.62" font-weight="bold" text-anchor="end" fill="#222" stroke="#222" stroke-width="0.2" transform="translate(426.61 450.90000000000003) rotate(-90) scale(1 1.1)">510</text>
<text x="0" y="0" font-size="5.62" font-weight="bold" text-anchor="end" fill="#222" stroke="#222" stroke-width="0.2" transform="translate(434.40 450.90000000000003) rotate(-90) scale(1 1.1)">540</text>
<text x="0" y="0" font-size="5.62" font-weight="bold" text-anchor="end" fill="#222" stroke="#222" stroke-width="0.2" transform="translate(442.18 450.90000000000003) rotate(-90) scale(1 1.1)">570</text>
<text x="0" y="0" font-size="5.62" font-weight="bold" text-anchor="end" fill="#222" stroke="#222" stroke-width="0.2" transform="translate(449.96 450.90000000000003) rotate(-90) scale(1 1.1)">600</text>
<text x="0" y="0" font-size="5.62" font-weight="bold" text-anchor="end" fill="#222" stroke="#222" stroke-width="0.2" transform="translate(457.74 450.90000000000003) rotate(-90) scale(1 1.1)">630</text>
<text x="0" y="0" font-size="5.62" font-weight="bold" text-anchor="end" fill="#222" stroke="#222" stroke-width="0.2" transform="translate(465.53 450.90000000000003) rotate(-90) scale(1 1.1)">660</text>
<text x="0" y="0" font-size="5.62" font-weight="bold" text-anchor="end" fill="#222" stroke="#222" stroke-width="0.2" transform="translate(473.31 450.90000000000003) rotate(-90) scale(1 1.1)">690</text>
<text x="0" y="0" transform="translate(371.5 467.90000000000003) scale(1 1.08)" font-size="6.24" font-weight="bold" text-anchor="start" fill="#222"  stroke="#222" stroke-width="0.3">days</text>
<text x="0" y="0" font-size="7.3" font-weight="bold" text-anchor="middle" fill="#222" stroke="#222" stroke-width="0.25" transform="translate(274.5 372.8) rotate(-90) scale(1 1.08)" xml:space="preserve">Survival (%)</text>
<polyline points="300.09,321.88 307.87,321.88 315.66,321.88 323.44,321.88 331.22,321.88 339.00,321.88 346.79,321.88 354.57,325.17 362.35,325.17 370.13,325.17 377.92,325.17 385.70,327.95 393.48,331.36 401.27,331.36 409.05,331.36 416.83,331.36 424.61,331.36 432.40,331.36 440.18,331.36 447.96,341.23 455.74,353.49 463.53,356.52 471.31,356.52" fill="none" stroke="#203f78" stroke-width="1.8" stroke-linejoin="round"/>
<path d="M354.57 323.27 L356.47 325.17 L354.57 327.07 L352.67 325.17 Z" fill="#fff" stroke="#111" stroke-width="0.95"/>
<path d="M362.35 323.27 L364.25 325.17 L362.35 327.07 L360.45 325.17 Z" fill="#fff" stroke="#111" stroke-width="0.95"/>
<path d="M370.13 323.27 L372.03 325.17 L370.13 327.07 L368.23 325.17 Z" fill="#fff" stroke="#111" stroke-width="0.95"/>
<path d="M377.92 323.27 L379.82 325.17 L377.92 327.07 L376.02 325.17 Z" fill="#fff" stroke="#111" stroke-width="0.95"/>
<path d="M385.70 326.05 L387.60 327.95 L385.70 329.85 L383.80 327.95 Z" fill="#fff" stroke="#111" stroke-width="0.95"/>
<path d="M393.48 329.46 L395.38 331.36 L393.48 333.26 L391.58 331.36 Z" fill="#fff" stroke="#111" stroke-width="0.95"/>
<path d="M401.27 329.46 L403.17 331.36 L401.27 333.26 L399.37 331.36 Z" fill="#fff" stroke="#111" stroke-width="0.95"/>
<path d="M409.05 329.46 L410.95 331.36 L409.05 333.26 L407.15 331.36 Z" fill="#fff" stroke="#111" stroke-width="0.95"/>
<path d="M416.83 329.46 L418.73 331.36 L416.83 333.26 L414.93 331.36 Z" fill="#fff" stroke="#111" stroke-width="0.95"/>
<path d="M424.61 329.46 L426.51 331.36 L424.61 333.26 L422.71 331.36 Z" fill="#fff" stroke="#111" stroke-width="0.95"/>
<path d="M432.40 329.46 L434.30 331.36 L432.40 333.26 L430.50 331.36 Z" fill="#fff" stroke="#111" stroke-width="0.95"/>
<path d="M440.18 329.46 L442.08 331.36 L440.18 333.26 L438.28 331.36 Z" fill="#fff" stroke="#111" stroke-width="0.95"/>
<path d="M447.96 339.33 L449.86 341.23 L447.96 343.13 L446.06 341.23 Z" fill="#fff" stroke="#111" stroke-width="0.95"/>
<path d="M455.74 351.59 L457.64 353.49 L455.74 355.39 L453.84 353.49 Z" fill="#fff" stroke="#111" stroke-width="0.95"/>
<path d="M463.53 354.62 L465.43 356.52 L463.53 358.42 L461.63 356.52 Z" fill="#fff" stroke="#111" stroke-width="0.95"/>
<path d="M471.31 354.62 L473.21 356.52 L471.31 358.42 L469.41 356.52 Z" fill="#fff" stroke="#111" stroke-width="0.95"/>
<polyline points="300.09,321.88 307.87,321.88 315.66,321.88 323.44,321.88 331.22,321.88 339.00,321.88 346.79,321.88 354.57,321.88 362.35,321.88 370.13,321.88 377.92,321.88 385.70,321.88 393.48,321.88 401.27,321.88 409.05,321.88 416.83,321.88 424.61,321.88 432.40,321.88 440.18,321.88 447.96,321.88 455.74,335.41 463.53,335.41 471.31,335.41" fill="none" stroke="#8fd0e4" stroke-width="1.3"/>
<rect x="454.14" y="333.81" width="3.2" height="3.2" fill="#fff" stroke="#111" stroke-width="1.1"/>
<rect x="461.93" y="333.81" width="3.2" height="3.2" fill="#fff" stroke="#111" stroke-width="1.1"/>
<polyline points="300.09,321.88 307.87,321.88 315.66,321.88 323.44,321.88 331.22,321.88 339.00,321.88 346.79,321.88 354.57,321.88 362.35,321.88 370.13,321.88 377.92,321.88 385.70,321.88 393.48,321.88 401.27,321.88 409.05,321.88 416.83,321.88 424.61,321.88 432.40,321.88 440.18,327.45 447.96,327.45 455.74,334.27 463.53,334.27 471.31,350.71" fill="none" stroke="#d03c30" stroke-width="1.2" stroke-dasharray="1.2 1.6"/>
<path d="M440.18 325.45 L442.08 328.95 L438.28 328.95 Z" fill="#fff" stroke="#111" stroke-width="1.0"/>
<path d="M447.96 325.45 L449.86 328.95 L446.06 328.95 Z" fill="#fff" stroke="#111" stroke-width="1.0"/>
<path d="M455.74 332.27 L457.64 335.77 L453.84 335.77 Z" fill="#fff" stroke="#111" stroke-width="1.0"/>
<path d="M463.53 332.27 L465.43 335.77 L461.63 335.77 Z" fill="#fff" stroke="#111" stroke-width="1.0"/>
<path d="M471.31 348.71 L473.21 352.21 L469.41 352.21 Z" fill="#fff" stroke="#111" stroke-width="1.0"/>
<polyline points="300.09,321.88 307.87,321.88 315.66,321.88 323.44,321.88 331.22,321.88 339.00,321.88 346.79,321.88 354.57,321.88 362.35,321.88 370.13,321.88 377.92,321.88 385.70,321.88 393.48,321.88 401.27,321.88 409.05,321.88 416.83,321.88 424.61,321.88 432.40,321.88 440.18,321.88 447.96,321.88 455.74,321.88 463.53,321.88 471.31,335.41" fill="none" stroke="#f2a066" stroke-width="1.6"/>
<rect x="298.29" y="320.28" width="3.6" height="3.2" fill="#fbe3cf" stroke="#555" stroke-width="0.45"/>
<path d="M298.19 320.18 L301.99 323.58 M301.99 320.18 L298.19 323.58" stroke="#1a1a1a" stroke-width="0.9"/>
<rect x="306.07" y="320.28" width="3.6" height="3.2" fill="#fbe3cf" stroke="#555" stroke-width="0.45"/>
<path d="M305.97 320.18 L309.77 323.58 M309.77 320.18 L305.97 323.58" stroke="#1a1a1a" stroke-width="0.9"/>
<rect x="313.86" y="320.28" width="3.6" height="3.2" fill="#fbe3cf" stroke="#555" stroke-width="0.45"/>
<path d="M313.76 320.18 L317.56 323.58 M317.56 320.18 L313.76 323.58" stroke="#1a1a1a" stroke-width="0.9"/>
<rect x="321.64" y="320.28" width="3.6" height="3.2" fill="#fbe3cf" stroke="#555" stroke-width="0.45"/>
<path d="M321.54 320.18 L325.34 323.58 M325.34 320.18 L321.54 323.58" stroke="#1a1a1a" stroke-width="0.9"/>
<rect x="329.42" y="320.28" width="3.6" height="3.2" fill="#fbe3cf" stroke="#555" stroke-width="0.45"/>
<path d="M329.32 320.18 L333.12 323.58 M333.12 320.18 L329.32 323.58" stroke="#1a1a1a" stroke-width="0.9"/>
<rect x="337.20" y="320.28" width="3.6" height="3.2" fill="#fbe3cf" stroke="#555" stroke-width="0.45"/>
<path d="M337.10 320.18 L340.90 323.58 M340.90 320.18 L337.10 323.58" stroke="#1a1a1a" stroke-width="0.9"/>
<rect x="344.99" y="320.28" width="3.6" height="3.2" fill="#fbe3cf" stroke="#555" stroke-width="0.45"/>
<path d="M344.89 320.18 L348.69 323.58 M348.69 320.18 L344.89 323.58" stroke="#1a1a1a" stroke-width="0.9"/>
<rect x="352.77" y="320.28" width="3.6" height="3.2" fill="#fbe3cf" stroke="#555" stroke-width="0.45"/>
<path d="M352.67 320.18 L356.47 323.58 M356.47 320.18 L352.67 323.58" stroke="#1a1a1a" stroke-width="0.9"/>
<rect x="360.55" y="320.28" width="3.6" height="3.2" fill="#fbe3cf" stroke="#555" stroke-width="0.45"/>
<path d="M360.45 320.18 L364.25 323.58 M364.25 320.18 L360.45 323.58" stroke="#1a1a1a" stroke-width="0.9"/>
<rect x="368.33" y="320.28" width="3.6" height="3.2" fill="#fbe3cf" stroke="#555" stroke-width="0.45"/>
<path d="M368.23 320.18 L372.03 323.58 M372.03 320.18 L368.23 323.58" stroke="#1a1a1a" stroke-width="0.9"/>
<rect x="376.12" y="320.28" width="3.6" height="3.2" fill="#fbe3cf" stroke="#555" stroke-width="0.45"/>
<path d="M376.02 320.18 L379.82 323.58 M379.82 320.18 L376.02 323.58" stroke="#1a1a1a" stroke-width="0.9"/>
<rect x="383.90" y="320.28" width="3.6" height="3.2" fill="#fbe3cf" stroke="#555" stroke-width="0.45"/>
<path d="M383.80 320.18 L387.60 323.58 M387.60 320.18 L383.80 323.58" stroke="#1a1a1a" stroke-width="0.9"/>
<rect x="391.68" y="320.28" width="3.6" height="3.2" fill="#fbe3cf" stroke="#555" stroke-width="0.45"/>
<path d="M391.58 320.18 L395.38 323.58 M395.38 320.18 L391.58 323.58" stroke="#1a1a1a" stroke-width="0.9"/>
<rect x="399.47" y="320.28" width="3.6" height="3.2" fill="#fbe3cf" stroke="#555" stroke-width="0.45"/>
<path d="M399.37 320.18 L403.17 323.58 M403.17 320.18 L399.37 323.58" stroke="#1a1a1a" stroke-width="0.9"/>
<rect x="407.25" y="320.28" width="3.6" height="3.2" fill="#fbe3cf" stroke="#555" stroke-width="0.45"/>
<path d="M407.15 320.18 L410.95 323.58 M410.95 320.18 L407.15 323.58" stroke="#1a1a1a" stroke-width="0.9"/>
<rect x="415.03" y="320.28" width="3.6" height="3.2" fill="#fbe3cf" stroke="#555" stroke-width="0.45"/>
<path d="M414.93 320.18 L418.73 323.58 M418.73 320.18 L414.93 323.58" stroke="#1a1a1a" stroke-width="0.9"/>
<rect x="422.81" y="320.28" width="3.6" height="3.2" fill="#fbe3cf" stroke="#555" stroke-width="0.45"/>
<path d="M422.71 320.18 L426.51 323.58 M426.51 320.18 L422.71 323.58" stroke="#1a1a1a" stroke-width="0.9"/>
<rect x="430.60" y="320.28" width="3.6" height="3.2" fill="#fbe3cf" stroke="#555" stroke-width="0.45"/>
<path d="M430.50 320.18 L434.30 323.58 M434.30 320.18 L430.50 323.58" stroke="#1a1a1a" stroke-width="0.9"/>
<rect x="438.38" y="320.28" width="3.6" height="3.2" fill="#fbe3cf" stroke="#555" stroke-width="0.45"/>
<path d="M438.28 320.18 L442.08 323.58 M442.08 320.18 L438.28 323.58" stroke="#1a1a1a" stroke-width="0.9"/>
<rect x="446.16" y="320.28" width="3.6" height="3.2" fill="#fbe3cf" stroke="#555" stroke-width="0.45"/>
<path d="M446.06 320.18 L449.86 323.58 M449.86 320.18 L446.06 323.58" stroke="#1a1a1a" stroke-width="0.9"/>
<path d="M453.94 320.43 L457.54 323.33 M457.54 320.43 L453.94 323.33" stroke="#111" stroke-width="1.6"/>
<path d="M461.73 320.43 L465.33 323.33 M465.33 320.43 L461.73 323.33" stroke="#111" stroke-width="1.6"/>
<rect x="469.51" y="333.81" width="3.6" height="3.2" fill="#fbe3cf" stroke="#555" stroke-width="0.45"/>
<path d="M469.41 333.71 L473.21 337.11 M473.21 333.71 L469.41 337.11" stroke="#1a1a1a" stroke-width="0.9"/>
<line x1="468.1" y1="373.1" x2="482.5" y2="373.1" stroke="#203f78" stroke-width="1.9" />
<path d="M475.30 371.20 L477.20 373.10 L475.30 375.00 L473.40 373.10 Z" fill="#fff" stroke="#111" stroke-width="0.95"/>
<text x="0" y="0" transform="translate(483.70000000000005 375.20000000000005) scale(1 1.08)" font-size="6.188000000000001" font-weight="normal" text-anchor="start" fill="#2a2a2a" >RzCD19Cre</text>
<line x1="468.1" y1="382.9" x2="482.5" y2="382.9" stroke="#8fd0e4" stroke-width="1.9" />
<rect x="473.70" y="381.30" width="3.2" height="3.2" fill="#fff" stroke="#111" stroke-width="1.1"/>
<text x="0" y="0" transform="translate(483.70000000000005 385.0) scale(1 1.08)" font-size="6.188000000000001" font-weight="normal" text-anchor="start" fill="#2a2a2a" >Rz</text>
<line x1="468.1" y1="392.1" x2="482.5" y2="392.1" stroke="#d03c30" stroke-width="1.2" stroke-dasharray="1.2 2.4"/>
<path d="M475.30 390.10 L477.20 393.60 L473.40 393.60 Z" fill="#fff" stroke="#111" stroke-width="1.0"/>
<text x="0" y="0" transform="translate(483.70000000000005 394.20000000000005) scale(1 1.08)" font-size="6.188000000000001" font-weight="normal" text-anchor="start" fill="#2a2a2a" >CD19Cre</text>
<line x1="468.1" y1="401.7" x2="482.5" y2="401.7" stroke="#f2a066" stroke-width="1.9" />
<path d="M473.50 400.25 L477.10 403.15 M477.10 400.25 L473.50 403.15" stroke="#111" stroke-width="1.6"/>
<text x="0" y="0" transform="translate(483.70000000000005 403.8) scale(1 1.08)" font-size="6.188000000000001" font-weight="normal" text-anchor="start" fill="#2a2a2a" >WT</text>
</svg>
</body></html>
